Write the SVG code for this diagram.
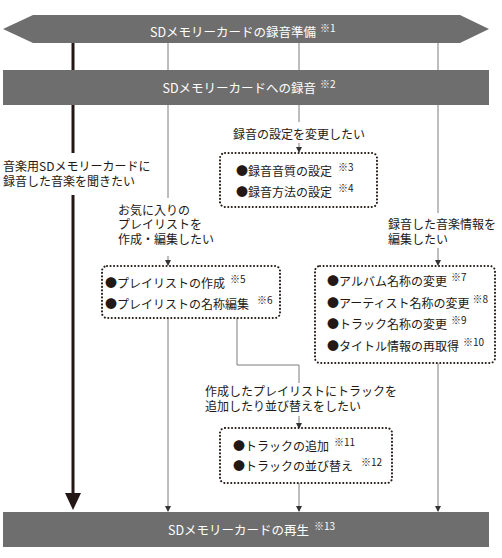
<svg xmlns="http://www.w3.org/2000/svg" width="502" height="558" viewBox="0 0 502 558">
<defs>
<style>
text{font-family:"Noto Sans CJK JP","Noto Sans",sans-serif;font-size:12px;fill:#231815}
.bar{fill:#6e6e6e}
.wt{fill:#fff;font-size:12.5px}
.ws{fill:#fff;font-size:10px}
.sm{font-size:10px}
.ln{stroke:#7d7d7d;stroke-width:1;fill:none}
.thick{stroke:#231815;stroke-width:3;fill:none}
.box{fill:#fff;stroke:#231815;stroke-width:2;stroke-dasharray:0.1 3.4;stroke-linecap:round}
</style>
<marker id="ah" markerWidth="6" markerHeight="6" refX="5" refY="3" orient="auto" markerUnits="userSpaceOnUse">
<path d="M0,0 L6,3 L0,6 Z" fill="#333"/>
</marker>
</defs>
<rect width="502" height="558" fill="#fff"/>
<g id="connectors">
<path class="thick" d="M73,43 V153"/>
<path class="thick" d="M73,195 V494"/>
<polygon points="65,493 81,493 73,510" fill="#231815"/>
<path class="ln" d="M168,43 V198"/>
<path class="ln" d="M168,256 V265" marker-end="url(#ah)"/>
<path class="ln" d="M299,43 V122"/>
<path class="ln" d="M299,143 V152" marker-end="url(#ah)"/>
<path class="ln" d="M438,43 V213"/>
<path class="ln" d="M438,248 V265" marker-end="url(#ah)"/>
<path class="ln" d="M168,318 V511" marker-end="url(#ah)"/>
<path class="ln" d="M237,318 V365 H299 V383"/>
<path class="ln" d="M299,416 V428" marker-end="url(#ah)"/>
<path class="ln" d="M299,483 V511" marker-end="url(#ah)"/>
<path class="ln" d="M438,363 V511" marker-end="url(#ah)"/>
</g>
<g id="prep">
<polygon class="bar" points="3,29 33,15 460,15 489,29 460,43 33,43"/>
<text class="wt" x="316" y="37" text-anchor="end">SDメモリーカードの録音準備</text>
<text class="ws" x="320" y="32">※1</text>
</g>
<g id="record">
<rect class="bar" x="3" y="70" width="486" height="35"/>
<text class="wt" x="316" y="93" text-anchor="end">SDメモリーカードへの録音</text>
<text class="ws" x="320" y="88">※2</text>
</g>
<g id="play">
<rect class="bar" x="3" y="512" width="486" height="35"/>
<text class="wt" x="309" y="535" text-anchor="end">SDメモリーカードの再生</text>
<text class="ws" x="314" y="530">※13</text>
</g>
<g id="label-listen">
<text x="3" y="171">音楽用SDメモリーカードに<tspan x="3" dy="15">録音した音楽を聞きたい</tspan></text>
</g>
<g id="label-settings">
<text x="299" y="139" text-anchor="middle">録音の設定を変更したい</text>
</g>
<g id="box-settings">
<rect class="box" x="220" y="153" width="157" height="54" rx="5"/>
<text x="236" y="176">●録音音質の設定<tspan class="sm" dx="6" dy="-5">※3</tspan></text>
<text x="236" y="197">●録音方法の設定<tspan class="sm" dx="6" dy="-5">※4</tspan></text>
</g>
<g id="label-playlist">
<text x="118" y="215">お気に入りの<tspan x="118" dy="14">プレイリストを</tspan><tspan x="118" dy="15">作成・編集したい</tspan></text>
</g>
<g id="box-playlist">
<rect class="box" x="102" y="266" width="178" height="52" rx="5"/>
<text x="105" y="288">●プレイリストの作成<tspan class="sm" dx="5" dy="-5">※5</tspan></text>
<text x="105" y="309">●プレイリストの名称編集<tspan class="sm" dx="8" dy="-5">※6</tspan></text>
</g>
<g id="label-info">
<text x="388" y="229">録音した音楽情報を<tspan x="388" dy="15">編集したい</tspan></text>
</g>
<g id="box-info">
<rect class="box" x="315" y="266" width="180" height="97" rx="5"/>
<text x="327" y="286">●アルバム名称の変更<tspan class="sm" dx="4" dy="-5">※7</tspan></text>
<text x="327" y="308">●アーティスト名称の変更<tspan class="sm" dx="3" dy="-5">※8</tspan></text>
<text x="327" y="329">●トラック名称の変更<tspan class="sm" dx="4" dy="-5">※9</tspan></text>
<text x="327" y="351">●タイトル情報の再取得<tspan class="sm" dx="4" dy="-5">※10</tspan></text>
</g>
<g id="label-track">
<text x="205" y="396">作成したプレイリストにトラックを<tspan x="205" dy="15">追加したり並び替えをしたい</tspan></text>
</g>
<g id="box-track">
<rect class="box" x="220" y="428" width="172" height="55" rx="5"/>
<text x="233" y="451">●トラックの追加<tspan class="sm" dx="5" dy="-5">※11</tspan></text>
<text x="233" y="471">●トラックの並び替え<tspan class="sm" dx="8" dy="-5">※12</tspan></text>
</g>
</svg>
